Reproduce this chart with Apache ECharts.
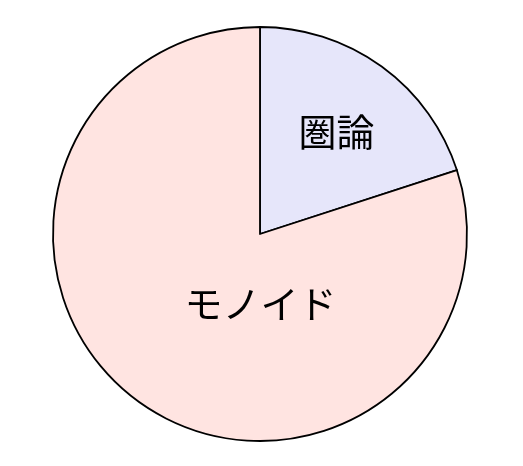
<!DOCTYPE html>
<html>
<head>
<meta charset="utf-8">
<style>html,body{margin:0;padding:0;background:#fff;}#c{width:523px;height:466px;}</style>
<script src="https://cdn.jsdelivr.net/npm/echarts@6/dist/echarts.min.js"></script>
</head>
<body>
<div id="c"></div>
<script>
var categories = ['圏論', 'モノイド'];
var values = [20, 80];
var colors = ['#E6E6FA', '#FFE4E1'];
var labelShift = [[14, -16], [63, -17]];

var chart = echarts.init(document.getElementById('c'), null, {renderer: 'canvas'});
chart.setOption({
  animation: false,
  backgroundColor: '#ffffff',
  series: [{
    type: 'pie',
    center: [260, 234],
    radius: [0, 207],
    startAngle: 90,
    clockwise: true,
    avoidLabelOverlap: false,
    data: categories.map(function (c, i) {
      return {name: c, value: values[i], itemStyle: {color: colors[i]}};
    }),
    itemStyle: {borderColor: '#000000', borderWidth: 1.8},
    label: {
      show: true,
      position: 'inside',
      formatter: '{b}',
      color: '#000000',
      fontSize: 38,
      fontFamily: '"Noto Sans CJK JP", sans-serif'
    },
    labelLine: {show: false},
    labelLayout: function (p) {
      return {dx: labelShift[p.dataIndex][0], dy: labelShift[p.dataIndex][1]};
    },
    emphasis: {disabled: true}
  }]
});
</script>
</body>
</html>
